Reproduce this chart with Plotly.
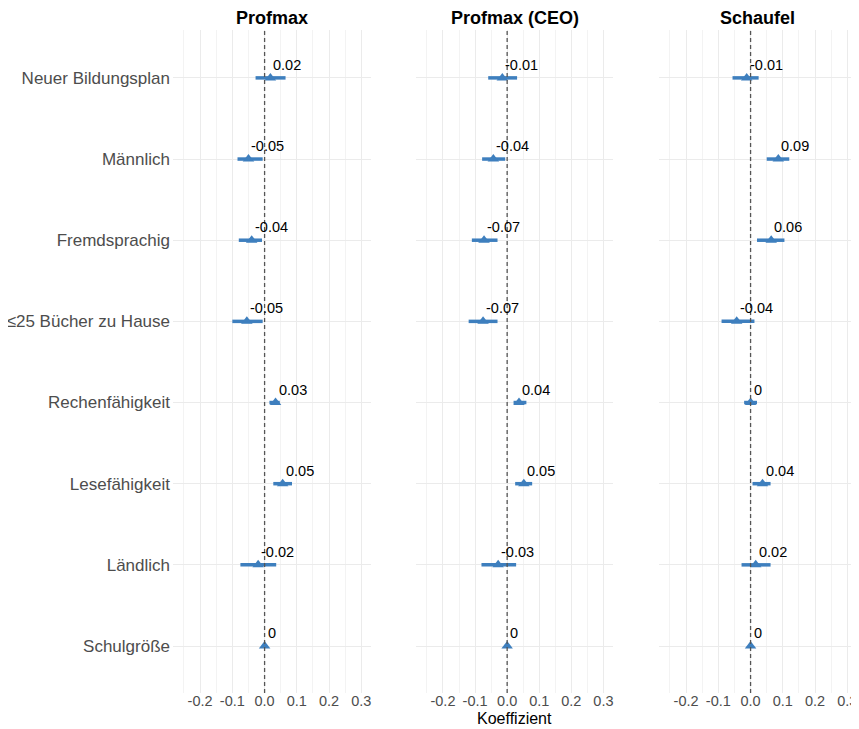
import plotly.graph_objects as go

categories = ["Neuer Bildungsplan", "Männlich", "Fremdsprachig", "≤25 Bücher zu Hause",
              "Rechenfähigkeit", "Lesefähigkeit", "Ländlich", "Schulgröße"]
panels = ["Profmax", "Profmax (CEO)", "Schaufel"]

profmax_est = [0.018, -0.05, -0.04, -0.055, 0.034, 0.056, -0.02, 0.0]
profmax_lo = [-0.028, -0.084, -0.08, -0.10, 0.015, 0.027, -0.075, -0.003]
profmax_hi = [0.065, -0.006, -0.008, -0.006, 0.047, 0.085, 0.036, 0.003]
profmax_lab = ["0.02", "-0.05", "-0.04", "-0.05", "0.03", "0.05", "-0.02", "0"]

ceo_est = [-0.015, -0.043, -0.072, -0.075, 0.037, 0.052, -0.028, 0.0]
ceo_lo = [-0.059, -0.078, -0.11, -0.12, 0.02, 0.025, -0.08, -0.003]
ceo_hi = [0.031, -0.006, -0.03, -0.03, 0.06, 0.078, 0.028, 0.003]
ceo_lab = ["-0.01", "-0.04", "-0.07", "-0.07", "0.04", "0.05", "-0.03", "0"]

schaufel_est = [-0.012, 0.086, 0.064, -0.043, 0.0, 0.037, 0.016, 0.0]
schaufel_lo = [-0.056, 0.05, 0.02, -0.09, -0.02, 0.006, -0.028, -0.003]
schaufel_hi = [0.025, 0.12, 0.105, 0.012, 0.02, 0.062, 0.062, 0.003]
schaufel_lab = ["-0.01", "0.09", "0.06", "-0.04", "0", "0.04", "0.02", "0"]

x_tickvals = [-0.2, -0.1, 0.0, 0.1, 0.2, 0.3]
x_ticktext = ["-0.2", "-0.1", "0.0", "0.1", "0.2", "0.3"]

data = [
    (profmax_est, profmax_lo, profmax_hi, profmax_lab),
    (ceo_est, ceo_lo, ceo_hi, ceo_lab),
    (schaufel_est, schaufel_lo, schaufel_hi, schaufel_lab),
]

BLUE = "#3E7FBE"
domains = [[0.0, 0.2895], [0.3553, 0.6433], [0.7105, 1.0]]
rows = list(range(len(categories)))

FIG_H = 721
MARGIN_B = 36

fig = go.Figure()
annotations = []
shapes = []

for i, (est, lo, hi, lab) in enumerate(data):
    sfx = "" if i == 0 else str(i + 1)
    xa, ya = "x" + sfx, "y" + sfx
    xs, ys = [], []
    for r in rows:
        xs += [lo[r], hi[r], None]
        ys += [r, r, None]
    fig.add_trace(go.Scatter(x=xs, y=ys, mode="lines", line=dict(color=BLUE, width=3.5),
                             xaxis=xa, yaxis=ya, showlegend=False, hoverinfo="skip"))
    fig.add_trace(go.Scatter(x=est, y=rows, mode="markers",
                             marker=dict(symbol="triangle-up", size=10, color=BLUE),
                             xaxis=xa, yaxis=ya, showlegend=False))
    for r in rows:
        annotations.append(dict(x=est[r], y=r, xref=xa, yref=ya, text=lab[r], showarrow=False,
                                xanchor="left", yanchor="bottom", xshift=1, yshift=3,
                                font=dict(size=14.5, color="black")))
    annotations.append(dict(x=sum(domains[i]) / 2, y=1, xref="paper", yref="paper",
                            text="<b>" + panels[i] + "</b>", showarrow=False,
                            xanchor="center", yanchor="bottom", yshift=0,
                            font=dict(size=18, color="black")))
    shapes.append(dict(type="line", xref=xa, yref=ya + " domain", x0=0, x1=0, y0=0, y1=1,
                       line=dict(color="#555555", width=1.3, dash="4px,3px"), layer="above"))

    fig.layout["xaxis" + sfx] = dict(
        domain=domains[i], range=[-0.284, 0.33], anchor=ya,
        tickvals=x_tickvals, ticktext=x_ticktext, ticks="",
        ticklabelstandoff=-3,
        tickfont=dict(size=14.5, color="#4D4D4D"),
        showgrid=True, gridcolor="#EBEBEB", gridwidth=1, zeroline=False, showline=False,
        minor=dict(dtick=0.05, tick0=0, showgrid=True, gridcolor="#F3F3F3", gridwidth=1),
    )
    fig.layout["yaxis" + sfx] = dict(
        range=[7.579, -0.59], anchor=xa, tickvals=rows,
        ticktext=categories if i == 0 else None, showticklabels=(i == 0), ticks="",
        ticklabelstandoff=2,
        tickfont=dict(size=17, color="#4D4D4D"),
        showgrid=True, gridcolor="#EBEBEB", gridwidth=1, zeroline=False, showline=False,
    )

annotations.append(dict(x=sum(domains[1]) / 2, y=0, xref="paper", yref="paper", text="Koeffizient",
                        showarrow=False, xanchor="center", yanchor="bottom", yshift=-MARGIN_B,
                        font=dict(size=16, color="black")))

fig.update_layout(
    width=851, height=FIG_H,
    margin=dict(l=165, r=2, t=22, b=MARGIN_B, autoexpand=False),
    plot_bgcolor="white", paper_bgcolor="white",
    font=dict(family="Liberation Sans, Arial, sans-serif"),
    annotations=annotations, shapes=shapes,
)

fig.write_html("out.html")
